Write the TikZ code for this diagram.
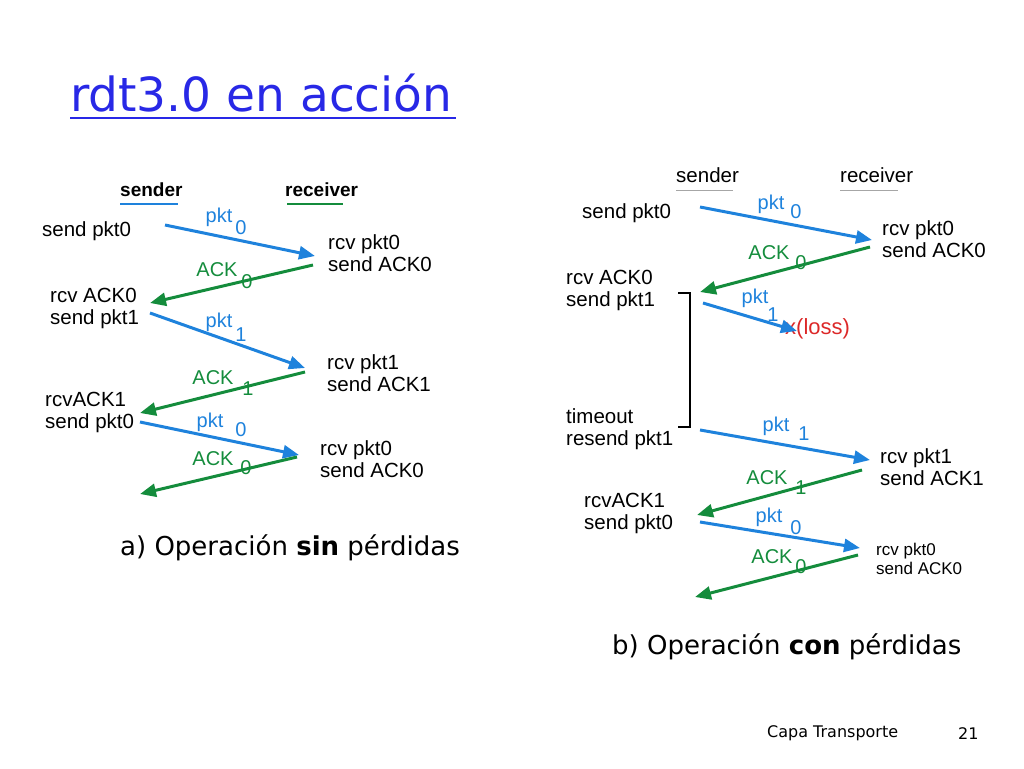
\documentclass[tikz,border=0pt]{standalone}
\usepackage{fontspec}
\setmainfont{DejaVu Sans}
\newfontfamily\capfont{Liberation Sans}
\usetikzlibrary{arrows.meta}
\definecolor{pktblue}{RGB}{30,130,220}
\definecolor{ackgreen}{RGB}{20,140,60}
\definecolor{titleblue}{RGB}{40,40,230}
\definecolor{lossred}{RGB}{220,40,40}
\tikzset{
  lbl/.style={anchor=west,inner sep=0pt,align=left,font=\capfont\fontsize{20.5}{22}\selectfont},
  small/.style={lbl,font=\capfont\fontsize{17}{19}\selectfont},
  pk/.style={inner sep=0pt,text=pktblue,font=\capfont\fontsize{20}{20}\selectfont},
  ak/.style={inner sep=0pt,text=ackgreen,font=\capfont\fontsize{20}{20}\selectfont},
  pktline/.style={pktblue,line width=3pt,-{Triangle[length=16pt,width=13pt]}},
  ackline/.style={ackgreen,line width=3pt,-{Triangle[length=16pt,width=13pt]}},
}
\begin{document}
\begin{tikzpicture}[x=1pt,y=-1pt]
\useasboundingbox (0,0) rectangle (1024,768);
%TITLE
\node[anchor=west,inner sep=0pt,text=titleblue,font=\fontsize{47}{52}\selectfont] (title) at (70,93) {rdt3.0 en acción};
\draw[titleblue,line width=2pt] (70,118) -- (456,118);
%LEFT: sin perdidas
\node[lbl,font=\capfont\bfseries\fontsize{19}{22}\selectfont] (sl) at (120,190) {sender};
\node[lbl,font=\capfont\bfseries\fontsize{19}{22}\selectfont] (rl) at (285,190) {receiver};
\draw[pktblue,line width=2.5pt] (120,204) -- (178,204);
\draw[ackgreen,line width=2.5pt] (287,204) -- (343,204);
\node[lbl] (a1) at (42,231) {send pkt0};
\node[lbl] (a2) at (328,253) {rcv pkt0\\send ACK0};
\node[lbl] (a3) at (50,308) {rcv ACK0\\send pkt1};
\node[lbl] (a4) at (327,373) {rcv pkt1\\send ACK1};
\node[lbl] (a5) at (45,412) {rcvACK1\\send pkt0};
\node[lbl] (a6) at (320,459) {rcv pkt0\\send ACK0};
\coordinate (p1s) at (165,225); \coordinate (p1e) at (315,256);
\coordinate (k1s) at (313,265); \coordinate (k1e) at (150,303);
\coordinate (p2s) at (150,313); \coordinate (p2e) at (305,368);
\coordinate (k2s) at (305,372); \coordinate (k2e) at (140,413);
\coordinate (p3s) at (140,422); \coordinate (p3e) at (299,455);
\coordinate (k3s) at (297,457); \coordinate (k3e) at (140,494);
\draw[pktline] (p1s) -- (p1e);
\draw[ackline] (k1s) -- (k1e);
\draw[pktline] (p2s) -- (p2e);
\draw[ackline] (k2s) -- (k2e);
\draw[pktline] (p3s) -- (p3e);
\draw[ackline] (k3s) -- (k3e);
\node[pk] (t1) at (219,217) {pkt}; \node[pk] at (241,228) {0};
\node[ak] (t2) at (217,270) {ACK}; \node[ak] at (247,282) {0};
\node[pk] (t3) at (219,322) {pkt}; \node[pk] at (241,335) {1};
\node[ak] (t4) at (213,378) {ACK}; \node[ak] at (248,389) {1};
\node[pk] (t5) at (210,422) {pkt}; \node[pk] at (241,430) {0};
\node[ak] (t6) at (213,459) {ACK}; \node[ak] at (246,468) {0};
\node[anchor=west,inner sep=0pt,font=\fontsize{26}{30}\selectfont] (capa) at (120,548) {a) Operación \textbf{sin} pérdidas};
%RIGHT: con perdidas
\node[lbl] (sr) at (676,175) {sender};
\node[lbl] (rr) at (840,175) {receiver};
\draw[gray!70,line width=1pt] (676,190) -- (733,190);
\draw[gray!70,line width=1pt] (840,190) -- (898,190);
\node[lbl] (b1) at (582,213) {send pkt0};
\node[lbl] (b2) at (882,239) {rcv pkt0\\send ACK0};
\node[lbl] (b3) at (566,290) {rcv ACK0\\send pkt1};
\node[lbl] (b4) at (566,429) {timeout\\resend pkt1};
\node[lbl] (b5) at (880,467) {rcv pkt1\\send ACK1};
\node[lbl] (b6) at (584,513) {rcvACK1\\send pkt0};
\node[small] (b7) at (876,559) {rcv pkt0\\send ACK0};
\node[lbl,text=lossred,font=\capfont\fontsize{22}{22}\selectfont] (loss) at (785,329) {x(loss)};
\draw[line width=2pt] (678,293) -- (690,293) -- (690,427) -- (678,427);
\coordinate (q1s) at (700,207); \coordinate (q1e) at (872,240);
\coordinate (m1s) at (870,247); \coordinate (m1e) at (700,292);
\coordinate (q2s) at (703,303); \coordinate (q2e) at (797,331);
\coordinate (q3s) at (700,430); \coordinate (q3e) at (870,460);
\coordinate (m2s) at (862,470); \coordinate (m2e) at (697,515);
\coordinate (q4s) at (700,522); \coordinate (q4e) at (860,548);
\coordinate (m3s) at (858,555); \coordinate (m3e) at (695,597);
\draw[pktline] (q1s) -- (q1e);
\draw[ackline] (m1s) -- (m1e);
\draw[pktline] (q2s) -- (q2e);
\draw[pktline] (q3s) -- (q3e);
\draw[ackline] (m2s) -- (m2e);
\draw[pktline] (q4s) -- (q4e);
\draw[ackline] (m3s) -- (m3e);
\node[pk] (u1) at (771,204) {pkt}; \node[pk] at (796,212) {0};
\node[ak] (u2) at (769,253) {ACK}; \node[ak] at (801,263) {0};
\node[pk] (u3) at (755,298) {pkt}; \node[pk] at (773,315) {1};
\node[pk] (u4) at (776,426) {pkt}; \node[pk] at (804,434) {1};
\node[ak] (u5) at (767,478) {ACK}; \node[ak] at (801,488) {1};
\node[pk] (u6) at (769,517) {pkt}; \node[pk] at (796,528) {0};
\node[ak] (u7) at (772,557) {ACK}; \node[ak] at (801,567) {0};
\node[anchor=west,inner sep=0pt,font=\fontsize{26}{30}\selectfont] (capb) at (612,647) {b) Operación \textbf{con} pérdidas};
%FOOTER
\node[anchor=west,inner sep=0pt,font=\fontsize{16}{18}\selectfont] (foot) at (767,733) {Capa Transporte};
\node[anchor=west,inner sep=0pt,font=\fontsize{16}{18}\selectfont] (page) at (958,734) {21};
\end{tikzpicture}
\end{document}
